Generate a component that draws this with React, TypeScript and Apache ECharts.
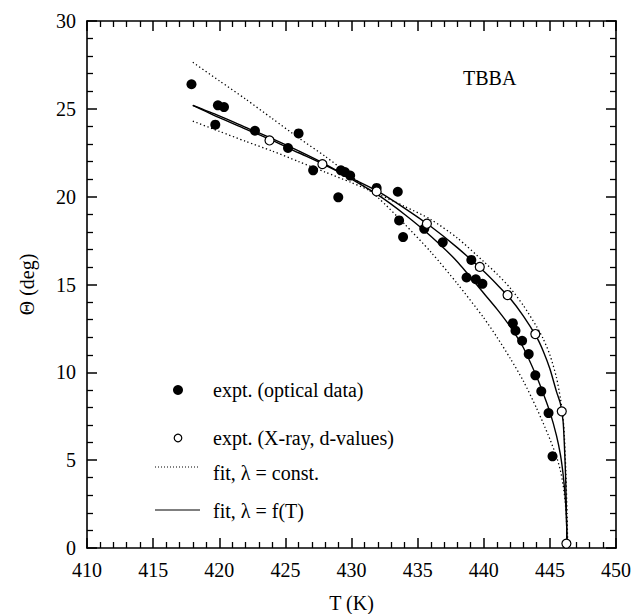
import React, { useEffect, useRef } from "react";
import * as echarts from "echarts";

const optT = [417.9, 419.7, 419.9, 420.36, 422.7, 425.2, 426.0, 427.1, 429.0, 429.2, 429.5, 429.9, 431.9, 433.5, 433.6, 433.9, 435.5, 436.9, 438.7, 439.06, 439.4, 439.9, 442.2, 442.4, 442.9, 443.4, 443.9, 444.35, 444.9, 445.2];
const optTheta = [26.4, 24.1, 25.2, 25.1, 23.75, 22.77, 23.6, 21.5, 19.96, 21.5, 21.4, 21.2, 20.5, 20.28, 18.65, 17.7, 18.17, 17.4, 15.4, 16.4, 15.3, 15.04, 12.8, 12.37, 11.8, 11.04, 9.83, 8.92, 7.68, 5.22];

const xrayT = [423.8, 427.8, 431.9, 435.7, 439.7, 441.8, 443.9, 445.9, 446.25];
const xrayTheta = [23.2, 21.85, 20.3, 18.46, 16.0, 14.4, 12.18, 7.78, 0.25];

const fitConstOptT = [418, 420, 422, 424, 426, 428, 430, 432, 434, 436, 438, 440, 441, 442, 443, 444, 444.5, 445, 445.5, 445.8, 446.0, 446.15, 446.25, 446.3];
const fitConstOptTheta = [27.65, 26.6, 25.55, 24.45, 23.35, 22.3, 21.15, 19.95, 18.45, 16.85, 15.05, 13.1, 12.0, 10.8, 9.5, 7.95, 7.1, 6.2, 5.2, 4.4, 3.6, 2.7, 1.7, 0];

const fitConstXT = [418, 420, 422, 424, 426, 428, 430, 432, 434, 436, 438, 440, 441, 442, 443, 444, 444.5, 445, 445.5, 445.8, 446.0, 446.1, 446.2, 446.3, 446.35];
const fitConstXTheta = [24.3, 23.72, 23.15, 22.6, 22.0, 21.4, 20.8, 20.15, 19.45, 18.7, 17.65, 16.3, 15.6, 14.8, 13.8, 12.6, 11.9, 11.0, 9.7, 8.5, 7.4, 6.3, 4.5, 2.0, 0];

const fitVarOptT = [418, 420, 422, 424, 426, 428, 430, 432, 434, 436, 438, 440, 441, 442, 443, 444, 444.5, 445, 445.5, 445.8, 446.0, 446.15, 446.25, 446.3];
const fitVarOptTheta = [25.2, 24.6, 23.95, 23.3, 22.6, 21.85, 21.0, 20.1, 19.0, 17.75, 16.3, 14.5, 13.6, 12.6, 11.4, 9.75, 8.8, 7.75, 6.4, 5.3, 4.2, 3.0, 1.8, 0];

const fitVarXT = [418, 420, 422, 424, 426, 428, 430, 432, 434, 436, 438, 440, 441, 442, 443, 444, 444.5, 445, 445.5, 445.8, 446.0, 446.1, 446.2, 446.3];
const fitVarXTheta = [25.2, 24.5, 23.85, 23.2, 22.5, 21.8, 21.05, 20.3, 19.35, 18.3, 17.1, 15.75, 15.0, 14.2, 13.2, 12.0, 11.2, 10.2, 8.9, 8.2, 7.2, 5.8, 3.8, 0];

const xRange = { min: 410, max: 450, interval: 5 };
const yRange = { min: 0, max: 30, interval: 5 };

const FONT = "Liberation Serif, serif";

const pairs = (xs: number[], ys: number[]) => xs.map((x, i) => [x, ys[i]]);

function axisParts(showTicks: boolean) {
  return {
    axisLine: { show: true, onZero: false, lineStyle: { color: "#000", width: 1.6 } },
    axisTick: { show: showTicks, inside: true, length: 10, lineStyle: { color: "#000", width: 1.5 } },
    minorTick: { show: showTicks, splitNumber: 5, length: 6, lineStyle: { color: "#000", width: 1.3 } },
    splitLine: { show: false },
    minorSplitLine: { show: false },
  };
}

export default function App() {
  const ref = useRef<HTMLDivElement>(null);
  useEffect(() => {
    if (!ref.current) return;
    const chart = echarts.init(ref.current, undefined, { renderer: "svg" });
    const lineSeries = (name: string, xs: number[], ys: number[], dotted: boolean) => ({
      name,
      type: "line",
      data: pairs(xs, ys),
      showSymbol: false,
      symbol: "none",
      smooth: 0.25,
      lineStyle: dotted
        ? { color: "#000", width: 1.3, type: [1.3, 2.6] }
        : { color: "#000", width: 1.4, type: "solid" },
      z: 2,
      silent: true,
    });
    const txt = (text: string, x: number, y: number) => ({
      type: "text",
      x,
      y,
      style: { text, font: `20px ${FONT}`, fill: "#000", verticalAlign: "middle" },
    });

    chart.setOption({
      animation: false,
      backgroundColor: "#fff",
      textStyle: { fontFamily: FONT, fontSize: 20 },
      grid: { left: 79, right: 31, top: 13, bottom: 74, show: false },
      xAxis: [
        {
          type: "value",
          position: "bottom",
          ...xRange,
          ...axisParts(true),
          axisLabel: { show: true, color: "#000", fontSize: 20, fontFamily: FONT, margin: 12 },
          name: "T (K)",
          nameLocation: "middle",
          nameGap: 45,
          nameTextStyle: { color: "#000", fontSize: 20, fontFamily: FONT },
        },
        {
          type: "value",
          position: "top",
          ...xRange,
          ...axisParts(true),
          axisLabel: { show: false },
        },
      ],
      yAxis: [
        {
          type: "value",
          position: "left",
          ...yRange,
          ...axisParts(true),
          axisLabel: { show: true, color: "#000", fontSize: 20, fontFamily: FONT, margin: 11 },
          name: "Θ (deg)",
          nameLocation: "middle",
          nameGap: 50,
          nameRotate: 90,
          nameTextStyle: { color: "#000", fontSize: 20, fontFamily: FONT },
        },
        {
          type: "value",
          position: "right",
          ...yRange,
          ...axisParts(true),
          axisLabel: { show: false },
        },
      ],
      series: [
        lineSeries("fit, λ = const. (optical)", fitConstOptT, fitConstOptTheta, true),
        lineSeries("fit, λ = const. (X-ray)", fitConstXT, fitConstXTheta, true),
        lineSeries("fit, λ = f(T) (optical)", fitVarOptT, fitVarOptTheta, false),
        lineSeries("fit, λ = f(T) (X-ray)", fitVarXT, fitVarXTheta, false),
        {
          name: "expt. (optical data)",
          type: "scatter",
          data: pairs(optT, optTheta),
          symbol: "circle",
          symbolSize: 10,
          itemStyle: { color: "#000", opacity: 1 },
          z: 3,
        },
        {
          name: "expt. (X-ray, d-values)",
          type: "scatter",
          data: pairs(xrayT, xrayTheta),
          symbol: "circle",
          symbolSize: 9,
          itemStyle: { color: "#fff", borderColor: "#000", borderWidth: 1.2, opacity: 1 },
          z: 4,
        },
      ],
      graphic: [
        txt("TBBA", 455, 70),
        { type: "circle", shape: { cx: 170, cy: 382, r: 5 }, style: { fill: "#000" } },
        txt("expt. (optical data)", 205, 382),
        { type: "circle", shape: { cx: 170, cy: 430, r: 3.8 }, style: { fill: "#fff", stroke: "#000", lineWidth: 1.2 } },
        txt("expt. (X-ray, d-values)", 205, 430),
        { type: "line", shape: { x1: 147, y1: 459, x2: 192, y2: 459 }, style: { stroke: "#000", lineWidth: 1, lineDash: [1, 2] } },
        txt("fit, λ = const.", 205, 465),
        { type: "line", shape: { x1: 147, y1: 502, x2: 192, y2: 502 }, style: { stroke: "#000", lineWidth: 1.2 } },
        txt("fit, λ = f(T)", 205, 503),
      ],
    });
    return () => chart.dispose();
  }, []);
  return <div ref={ref} style={{ width: 639, height: 614 }} />;
}
